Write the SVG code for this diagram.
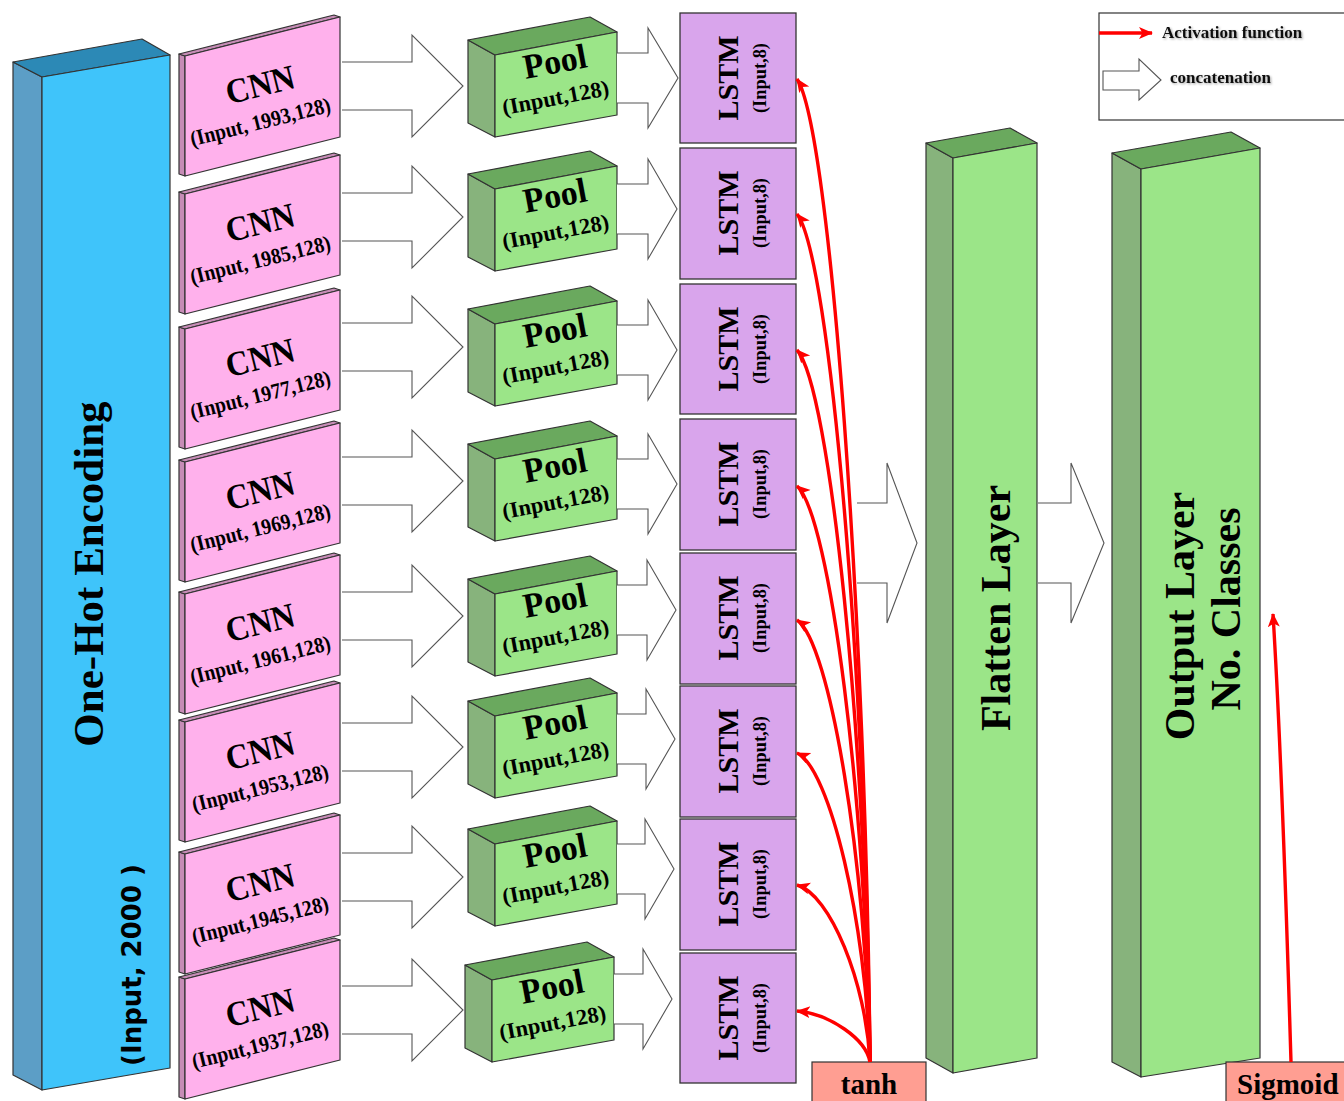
<svg xmlns="http://www.w3.org/2000/svg" width="1344" height="1101" viewBox="0 0 1344 1101">
  <style>
    .edge { stroke: #333; stroke-width: 1.2; stroke-linejoin: round; }
    .oh-front { fill: #3FC4FA; }
    .oh-side { fill: #5C9EC6; }
    .oh-top { fill: #2C89B6; }
    .cnn-front { fill: #FFB1EC; }
    .cnn-side { fill: #C68CB6; }
    .pool-front { fill: #9BE588; }
    .pool-side { fill: #87B37C; }
    .pool-top { fill: #6AA95E; }
    .lstm { fill: #D9A5EC; stroke: #333; stroke-width: 1.3; }
    .act { fill: #FF9E92; stroke: #333; stroke-width: 1.2; }
    .serif { font-family: "Liberation Serif", "Times New Roman", serif; font-weight: bold; fill: #000; }
    .sans { font-family: "DejaVu Sans", Verdana, sans-serif; font-weight: bold; fill: #000; }
    .hollow { fill: #fff; stroke: #555; stroke-width: 1.1; stroke-linejoin: miter; }
    .red { fill: none; stroke: #FF0000; stroke-width: 3.4; marker-end: url(#redHead); }
    .legend-text { font-family: "Liberation Serif", "Times New Roman", serif; font-weight: bold; font-size: 17px; fill: #111; filter: url(#softShadow); }
    .cnn-title { font-size: 35px; }
    .cnn-dims { font-size: 22px; }
    .pool-title { font-size: 35px; }
    .pool-dims { font-size: 22.5px; }
    .lstm-title { font-size: 30px; }
    .lstm-dims { font-size: 19px; }
  </style>
  <defs>
    <marker id="redHead" markerUnits="userSpaceOnUse" markerWidth="16" markerHeight="14" refX="13" refY="6" orient="auto">
      <path d="M0,0 L14,6 L0,12 L3.5,6 Z" fill="#FF0000"/>
    </marker>
    <filter id="softShadow" x="-5%" y="-30%" width="115%" height="170%">
      <feDropShadow dx="1.2" dy="1.2" stdDeviation="0.8" flood-color="#000" flood-opacity="0.35"/>
    </filter>
  </defs>

  <rect width="1344" height="1101" fill="#fff"/>

  <!-- input block -->
  <g id="one-hot">
    <polygon class="oh-side edge" points="13,62 42,77 42,1090 13,1075"/>
    <polygon class="oh-top edge" points="13,62 142,39 170,55 42,77"/>
    <polygon class="oh-front edge" points="42,77 170,55 170,1068 42,1090"/>
    <text class="serif" font-size="43" text-anchor="middle" transform="translate(103,574) rotate(-90)">One-Hot Encoding</text>
    <text class="sans" font-size="26" text-anchor="middle" transform="translate(141,965) rotate(-90)">(Input, 2000 )</text>
  </g>

  <!-- convolution blocks: front face, thin left side and top strip -->
  <g id="cnn1" transform="translate(0,17)">
    <polygon class="cnn-side edge" points="185,39 179,37 179,157 185,159"/>
    <polygon class="cnn-side edge" points="185,39 340,0 334,-2 179,37"/>
    <polygon class="cnn-front edge" points="185,39 340,0 340,120 185,159"/>
    <text class="serif cnn-title" text-anchor="middle" textLength="70" lengthAdjust="spacingAndGlyphs" transform="translate(263,79) rotate(-14)">CNN</text>
    <text class="serif cnn-dims" text-anchor="middle" textLength="144" lengthAdjust="spacingAndGlyphs" transform="translate(262,112) rotate(-14)">(Input, 1993,128)</text>
  </g>
  <g id="cnn2" transform="translate(0,155)">
    <polygon class="cnn-side edge" points="185,39 179,37 179,157 185,159"/>
    <polygon class="cnn-side edge" points="185,39 340,0 334,-2 179,37"/>
    <polygon class="cnn-front edge" points="185,39 340,0 340,120 185,159"/>
    <text class="serif cnn-title" text-anchor="middle" textLength="70" lengthAdjust="spacingAndGlyphs" transform="translate(263,79) rotate(-14)">CNN</text>
    <text class="serif cnn-dims" text-anchor="middle" textLength="144" lengthAdjust="spacingAndGlyphs" transform="translate(262,112) rotate(-14)">(Input, 1985,128)</text>
  </g>
  <g id="cnn3" transform="translate(0,290)">
    <polygon class="cnn-side edge" points="185,39 179,37 179,157 185,159"/>
    <polygon class="cnn-side edge" points="185,39 340,0 334,-2 179,37"/>
    <polygon class="cnn-front edge" points="185,39 340,0 340,120 185,159"/>
    <text class="serif cnn-title" text-anchor="middle" textLength="70" lengthAdjust="spacingAndGlyphs" transform="translate(263,79) rotate(-14)">CNN</text>
    <text class="serif cnn-dims" text-anchor="middle" textLength="144" lengthAdjust="spacingAndGlyphs" transform="translate(262,112) rotate(-14)">(Input, 1977,128)</text>
  </g>
  <g id="cnn4" transform="translate(0,423)">
    <polygon class="cnn-side edge" points="185,39 179,37 179,157 185,159"/>
    <polygon class="cnn-side edge" points="185,39 340,0 334,-2 179,37"/>
    <polygon class="cnn-front edge" points="185,39 340,0 340,120 185,159"/>
    <text class="serif cnn-title" text-anchor="middle" textLength="70" lengthAdjust="spacingAndGlyphs" transform="translate(263,79) rotate(-14)">CNN</text>
    <text class="serif cnn-dims" text-anchor="middle" textLength="144" lengthAdjust="spacingAndGlyphs" transform="translate(262,112) rotate(-14)">(Input, 1969,128)</text>
  </g>
  <g id="cnn5" transform="translate(0,555)">
    <polygon class="cnn-side edge" points="185,39 179,37 179,157 185,159"/>
    <polygon class="cnn-side edge" points="185,39 340,0 334,-2 179,37"/>
    <polygon class="cnn-front edge" points="185,39 340,0 340,120 185,159"/>
    <text class="serif cnn-title" text-anchor="middle" textLength="70" lengthAdjust="spacingAndGlyphs" transform="translate(263,79) rotate(-14)">CNN</text>
    <text class="serif cnn-dims" text-anchor="middle" textLength="144" lengthAdjust="spacingAndGlyphs" transform="translate(262,112) rotate(-14)">(Input, 1961,128)</text>
  </g>
  <g id="cnn6" transform="translate(0,683)">
    <polygon class="cnn-side edge" points="185,39 179,37 179,157 185,159"/>
    <polygon class="cnn-side edge" points="185,39 340,0 334,-2 179,37"/>
    <polygon class="cnn-front edge" points="185,39 340,0 340,120 185,159"/>
    <text class="serif cnn-title" text-anchor="middle" textLength="70" lengthAdjust="spacingAndGlyphs" transform="translate(263,79) rotate(-14)">CNN</text>
    <text class="serif cnn-dims" text-anchor="middle" textLength="140" lengthAdjust="spacingAndGlyphs" transform="translate(262,112) rotate(-14)">(Input,1953,128)</text>
  </g>
  <g id="cnn7" transform="translate(0,815)">
    <polygon class="cnn-side edge" points="185,39 179,37 179,157 185,159"/>
    <polygon class="cnn-side edge" points="185,39 340,0 334,-2 179,37"/>
    <polygon class="cnn-front edge" points="185,39 340,0 340,120 185,159"/>
    <text class="serif cnn-title" text-anchor="middle" textLength="70" lengthAdjust="spacingAndGlyphs" transform="translate(263,79) rotate(-14)">CNN</text>
    <text class="serif cnn-dims" text-anchor="middle" textLength="140" lengthAdjust="spacingAndGlyphs" transform="translate(262,112) rotate(-14)">(Input,1945,128)</text>
  </g>
  <g id="cnn8" transform="translate(0,940)">
    <polygon class="cnn-side edge" points="185,39 179,37 179,157 185,159"/>
    <polygon class="cnn-side edge" points="185,39 340,0 334,-2 179,37"/>
    <polygon class="cnn-front edge" points="185,39 340,0 340,120 185,159"/>
    <text class="serif cnn-title" text-anchor="middle" textLength="70" lengthAdjust="spacingAndGlyphs" transform="translate(263,79) rotate(-14)">CNN</text>
    <text class="serif cnn-dims" text-anchor="middle" textLength="140" lengthAdjust="spacingAndGlyphs" transform="translate(262,112) rotate(-14)">(Input,1937,128)</text>
  </g>

  <!-- pooling blocks (positioned by front-face centre) -->
  <g id="pool1" transform="translate(0,85)">
    <polygon class="pool-side edge" points="468,-45 495,-30 495,52 468,38"/>
    <polygon class="pool-top edge" points="468,-45 590,-68 617,-53 495,-30"/>
    <polygon class="pool-front edge" points="495,-30 617,-53 617,30 495,52"/>
    <text class="serif pool-title" text-anchor="middle" textLength="64" lengthAdjust="spacingAndGlyphs" transform="translate(557,-12) rotate(-10.7)">Pool</text>
    <text class="serif pool-dims" text-anchor="middle" transform="translate(557,20) rotate(-10.7)">(Input,128)</text>
  </g>
  <g id="pool2" transform="translate(0,219)">
    <polygon class="pool-side edge" points="468,-45 495,-30 495,52 468,38"/>
    <polygon class="pool-top edge" points="468,-45 590,-68 617,-53 495,-30"/>
    <polygon class="pool-front edge" points="495,-30 617,-53 617,30 495,52"/>
    <text class="serif pool-title" text-anchor="middle" textLength="64" lengthAdjust="spacingAndGlyphs" transform="translate(557,-12) rotate(-10.7)">Pool</text>
    <text class="serif pool-dims" text-anchor="middle" transform="translate(557,20) rotate(-10.7)">(Input,128)</text>
  </g>
  <g id="pool3" transform="translate(0,354)">
    <polygon class="pool-side edge" points="468,-45 495,-30 495,52 468,38"/>
    <polygon class="pool-top edge" points="468,-45 590,-68 617,-53 495,-30"/>
    <polygon class="pool-front edge" points="495,-30 617,-53 617,30 495,52"/>
    <text class="serif pool-title" text-anchor="middle" textLength="64" lengthAdjust="spacingAndGlyphs" transform="translate(557,-12) rotate(-10.7)">Pool</text>
    <text class="serif pool-dims" text-anchor="middle" transform="translate(557,20) rotate(-10.7)">(Input,128)</text>
  </g>
  <g id="pool4" transform="translate(0,489)">
    <polygon class="pool-side edge" points="468,-45 495,-30 495,52 468,38"/>
    <polygon class="pool-top edge" points="468,-45 590,-68 617,-53 495,-30"/>
    <polygon class="pool-front edge" points="495,-30 617,-53 617,30 495,52"/>
    <text class="serif pool-title" text-anchor="middle" textLength="64" lengthAdjust="spacingAndGlyphs" transform="translate(557,-12) rotate(-10.7)">Pool</text>
    <text class="serif pool-dims" text-anchor="middle" transform="translate(557,20) rotate(-10.7)">(Input,128)</text>
  </g>
  <g id="pool5" transform="translate(0,624)">
    <polygon class="pool-side edge" points="468,-45 495,-30 495,52 468,38"/>
    <polygon class="pool-top edge" points="468,-45 590,-68 617,-53 495,-30"/>
    <polygon class="pool-front edge" points="495,-30 617,-53 617,30 495,52"/>
    <text class="serif pool-title" text-anchor="middle" textLength="64" lengthAdjust="spacingAndGlyphs" transform="translate(557,-12) rotate(-10.7)">Pool</text>
    <text class="serif pool-dims" text-anchor="middle" transform="translate(557,20) rotate(-10.7)">(Input,128)</text>
  </g>
  <g id="pool6" transform="translate(0,746)">
    <polygon class="pool-side edge" points="468,-45 495,-30 495,52 468,38"/>
    <polygon class="pool-top edge" points="468,-45 590,-68 617,-53 495,-30"/>
    <polygon class="pool-front edge" points="495,-30 617,-53 617,30 495,52"/>
    <text class="serif pool-title" text-anchor="middle" textLength="64" lengthAdjust="spacingAndGlyphs" transform="translate(557,-12) rotate(-10.7)">Pool</text>
    <text class="serif pool-dims" text-anchor="middle" transform="translate(557,20) rotate(-10.7)">(Input,128)</text>
  </g>
  <g id="pool7" transform="translate(0,874)">
    <polygon class="pool-side edge" points="468,-45 495,-30 495,52 468,38"/>
    <polygon class="pool-top edge" points="468,-45 590,-68 617,-53 495,-30"/>
    <polygon class="pool-front edge" points="495,-30 617,-53 617,30 495,52"/>
    <text class="serif pool-title" text-anchor="middle" textLength="64" lengthAdjust="spacingAndGlyphs" transform="translate(557,-12) rotate(-10.7)">Pool</text>
    <text class="serif pool-dims" text-anchor="middle" transform="translate(557,20) rotate(-10.7)">(Input,128)</text>
  </g>
  <g id="pool8" transform="translate(-3,1010)">
    <polygon class="pool-side edge" points="468,-45 495,-30 495,52 468,38"/>
    <polygon class="pool-top edge" points="468,-45 590,-68 617,-53 495,-30"/>
    <polygon class="pool-front edge" points="495,-30 617,-53 617,30 495,52"/>
    <text class="serif pool-title" text-anchor="middle" textLength="64" lengthAdjust="spacingAndGlyphs" transform="translate(557,-12) rotate(-10.7)">Pool</text>
    <text class="serif pool-dims" text-anchor="middle" transform="translate(557,20) rotate(-10.7)">(Input,128)</text>
  </g>

  <!-- recurrent blocks -->
  <g id="lstm1">
    <rect class="lstm" x="680" y="13" width="116" height="130"/>
    <text class="serif lstm-title" text-anchor="middle" transform="translate(738,78) rotate(-90)">LSTM</text>
    <text class="serif lstm-dims" text-anchor="middle" textLength="70" lengthAdjust="spacingAndGlyphs" transform="translate(766,78) rotate(-90)">(Input,8)</text>
  </g>
  <g id="lstm2">
    <rect class="lstm" x="680" y="148" width="116" height="131"/>
    <text class="serif lstm-title" text-anchor="middle" transform="translate(738,213) rotate(-90)">LSTM</text>
    <text class="serif lstm-dims" text-anchor="middle" textLength="70" lengthAdjust="spacingAndGlyphs" transform="translate(766,213) rotate(-90)">(Input,8)</text>
  </g>
  <g id="lstm3">
    <rect class="lstm" x="680" y="284" width="116" height="130"/>
    <text class="serif lstm-title" text-anchor="middle" transform="translate(738,349) rotate(-90)">LSTM</text>
    <text class="serif lstm-dims" text-anchor="middle" textLength="70" lengthAdjust="spacingAndGlyphs" transform="translate(766,349) rotate(-90)">(Input,8)</text>
  </g>
  <g id="lstm4">
    <rect class="lstm" x="680" y="419" width="116" height="131"/>
    <text class="serif lstm-title" text-anchor="middle" transform="translate(738,484) rotate(-90)">LSTM</text>
    <text class="serif lstm-dims" text-anchor="middle" textLength="70" lengthAdjust="spacingAndGlyphs" transform="translate(766,484) rotate(-90)">(Input,8)</text>
  </g>
  <g id="lstm5">
    <rect class="lstm" x="680" y="553" width="116" height="131"/>
    <text class="serif lstm-title" text-anchor="middle" transform="translate(738,618) rotate(-90)">LSTM</text>
    <text class="serif lstm-dims" text-anchor="middle" textLength="70" lengthAdjust="spacingAndGlyphs" transform="translate(766,618) rotate(-90)">(Input,8)</text>
  </g>
  <g id="lstm6">
    <rect class="lstm" x="680" y="686" width="116" height="131"/>
    <text class="serif lstm-title" text-anchor="middle" transform="translate(738,751) rotate(-90)">LSTM</text>
    <text class="serif lstm-dims" text-anchor="middle" textLength="70" lengthAdjust="spacingAndGlyphs" transform="translate(766,751) rotate(-90)">(Input,8)</text>
  </g>
  <g id="lstm7">
    <rect class="lstm" x="680" y="819" width="116" height="131"/>
    <text class="serif lstm-title" text-anchor="middle" transform="translate(738,884) rotate(-90)">LSTM</text>
    <text class="serif lstm-dims" text-anchor="middle" textLength="70" lengthAdjust="spacingAndGlyphs" transform="translate(766,884) rotate(-90)">(Input,8)</text>
  </g>
  <g id="lstm8">
    <rect class="lstm" x="680" y="953" width="116" height="130"/>
    <text class="serif lstm-title" text-anchor="middle" transform="translate(738,1018) rotate(-90)">LSTM</text>
    <text class="serif lstm-dims" text-anchor="middle" textLength="70" lengthAdjust="spacingAndGlyphs" transform="translate(766,1018) rotate(-90)">(Input,8)</text>
  </g>

  <!-- flatten block -->
  <g id="flatten">
    <polygon class="pool-side edge" points="926,143 953,158 953,1073 926,1058"/>
    <polygon class="pool-top edge" points="926,143 1010,128 1037,143 953,158"/>
    <polygon class="pool-front edge" points="953,158 1037,143 1037,1058 953,1073"/>
    <text class="serif" font-size="42" text-anchor="middle" transform="translate(1010,608) rotate(-90)">Flatten Layer</text>
  </g>

  <!-- output block -->
  <g id="output">
    <polygon class="pool-side edge" points="1112,153 1141,169 1141,1077 1112,1062"/>
    <polygon class="pool-top edge" points="1112,153 1231,132 1260,148 1141,169"/>
    <polygon class="pool-front edge" points="1141,169 1260,148 1260,1058 1141,1077"/>
    <text class="serif" font-size="42" text-anchor="middle" transform="translate(1194,616) rotate(-90)">Output Layer</text>
    <text class="serif" font-size="42" text-anchor="middle" transform="translate(1240,609) rotate(-90)">No. Classes</text>
  </g>

  <!-- activation labels -->
  <g id="tanh">
    <rect class="act" x="812" y="1062" width="114" height="45"/>
    <text class="serif" font-size="29" text-anchor="middle" x="869" y="1094">tanh</text>
  </g>
  <g id="sigmoid">
    <rect class="act" x="1226" y="1062" width="130" height="45"/>
    <text class="serif" font-size="29" x="1237" y="1094">Sigmoid</text>
  </g>

  <!-- legend -->
  <g id="legend">
    <rect x="1099" y="13" width="260" height="107" fill="#fff" stroke="#333" stroke-width="1.2"/>
    <path class="red" d="M1099,33 H1152" stroke-width="3"/>
    <path class="hollow" d="M1103,71 H1139 V59 L1161,80 L1139,100 V90 H1103 Z"/>
    <text class="legend-text" x="1162" y="38">Activation function</text>
    <text class="legend-text" x="1170" y="83">concatenation</text>
  </g>

  <!-- connectors -->
  <g id="connectors">
    <!-- CNN to Pool -->
    <path class="hollow" d="M342,62 H412 V35 L463,86 L412,137 V110 H342"/>
    <path class="hollow" d="M342,193 H412 V166 L463,217 L412,268 V241 H342"/>
    <path class="hollow" d="M342,323 H412 V296 L463,347 L412,398 V371 H342"/>
    <path class="hollow" d="M342,457 H412 V430 L463,481 L412,532 V505 H342"/>
    <path class="hollow" d="M342,592 H412 V565 L463,616 L412,667 V640 H342"/>
    <path class="hollow" d="M342,723 H412 V696 L463,747 L412,798 V771 H342"/>
    <path class="hollow" d="M342,853 H412 V826 L463,877 L412,928 V901 H342"/>
    <path class="hollow" d="M342,986 H412 V959 L463,1010 L412,1061 V1034 H342"/>

    <!-- Pool to LSTM -->
    <path class="hollow" d="M617,53 H648 V28 L678,78 L648,128 V103 H617"/>
    <path class="hollow" d="M617,184 H648 V159 L677,209 L648,259 V234 H617"/>
    <path class="hollow" d="M617,325 H648 V300 L677,350 L648,400 V375 H617"/>
    <path class="hollow" d="M617,459 H648 V434 L677,484 L648,534 V509 H617"/>
    <path class="hollow" d="M617,585 H647 V560 L676,610 L647,660 V635 H617"/>
    <path class="hollow" d="M617,714 H646 V689 L675,739 L646,789 V764 H617"/>
    <path class="hollow" d="M617,844 H645 V819 L674,869 L645,919 V894 H617"/>
    <path class="hollow" d="M614,974 H643 V949 L672,999 L643,1049 V1024 H614"/>

    <!-- LSTM to Flatten, Flatten to Output -->
    <path class="hollow" d="M857,503 H887 V463 L917,543 L887,623 V583 H857"/>
    <path class="hollow" d="M1038,503 H1071 V463 L1104,543 L1071,623 V583 H1038"/>

    <!-- tanh activation feeding every LSTM -->
    <path class="red" d="M870,1062 C866,620 830,128 797,79"/>
    <path class="red" d="M870,1062 C866,680 830,256 797,214"/>
    <path class="red" d="M870,1062 C866,742 830,386 797,350"/>
    <path class="red" d="M870,1062 C866,803 830,515 797,486"/>
    <path class="red" d="M870,1062 C866,863 830,642 797,620"/>
    <path class="red" d="M870,1062 C866,923 830,768 797,753"/>
    <path class="red" d="M870,1062 C866,982 830,894 797,885"/>
    <path class="red" d="M870,1062 C866,1039 830,1014 797,1011"/>

    <!-- sigmoid activation on the output -->
    <path class="red" d="M1291,1062 Q1282,760 1273,614"/>
  </g>
</svg>
